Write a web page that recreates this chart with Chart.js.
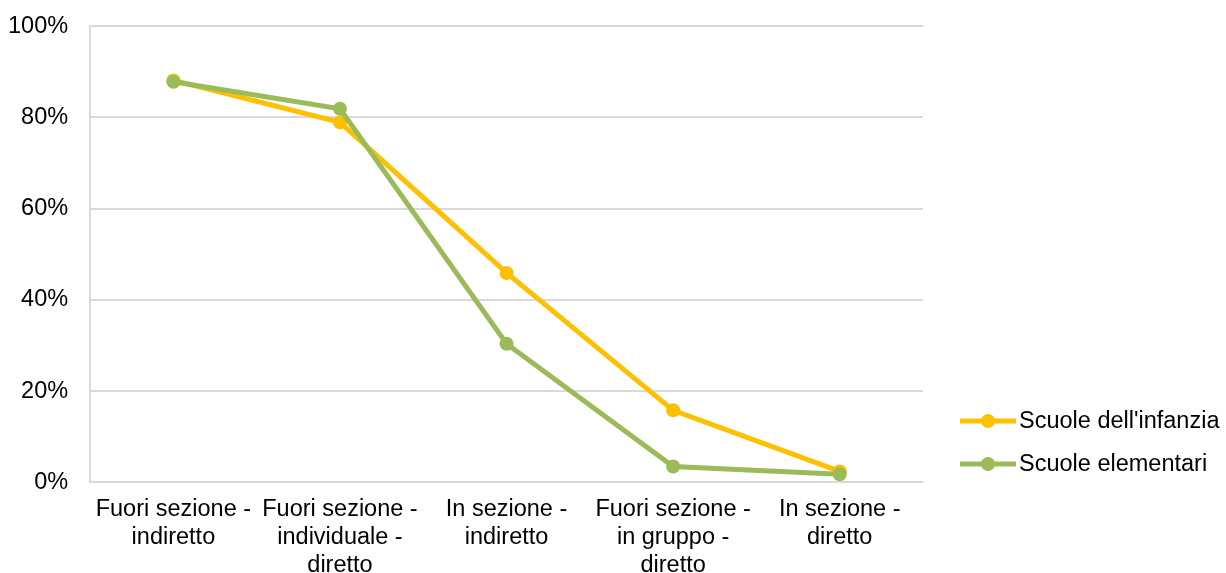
<!DOCTYPE html>
<html>
<head>
<meta charset="utf-8">
<script src="https://cdn.jsdelivr.net/npm/chart.js@4.4.0/dist/chart.umd.min.js"></script>
<style>
  html, body { margin: 0; padding: 0; background: #fff; }
  #wrap { width: 1226px; height: 573px; position: relative; overflow: hidden; }
  #inner { position: absolute; left: 0; top: -10px; width: 1226px; height: 583px; }
</style>
</head>
<body>
<div id="wrap"><div id="inner"><canvas id="chart"></canvas></div></div>
<script>
/* ─── Data ───────────────────── */
const categories = [
  ['Fuori sezione -', 'indiretto'],
  ['Fuori sezione -', 'individuale -', 'diretto'],
  ['In sezione -', 'indiretto'],
  ['Fuori sezione -', 'in gruppo -', 'diretto'],
  ['In sezione -', 'diretto']
];
const infanzia = [88.1, 78.9, 45.9, 15.8, 2.4];
const elementari = [87.8, 81.9, 30.4, 3.5, 1.8];
const seriesNames = ["Scuole dell'infanzia", 'Scuole elementari'];
const seriesColors = ['#FFC000', '#9BBB59'];

Chart.defaults.font.family = "'Liberation Sans', Arial, sans-serif";
Chart.defaults.font.size = 23.5;
Chart.defaults.font.lineHeight = 1.2;
Chart.defaults.color = '#000';

/* ─── Legend drawn at right, like the original ───────────────────── */
const sideLegend = {
  id: 'sideLegend',
  afterDraw(chart) {
    const ctx = chart.ctx;
    const x0 = chart.chartArea.right + 37;
    const rows = [431, 474]; // canvas coords (canvas is shifted up 10px)
    ctx.save();
    chart.data.datasets.forEach((ds, i) => {
      const y = rows[i];
      ctx.strokeStyle = ds.borderColor;
      ctx.lineWidth = 5;
      ctx.beginPath();
      ctx.moveTo(x0, y);
      ctx.lineTo(x0 + 56, y);
      ctx.stroke();
      ctx.fillStyle = ds.borderColor;
      ctx.beginPath();
      ctx.arc(x0 + 28, y, 7, 0, Math.PI * 2);
      ctx.fill();
      ctx.fillStyle = '#000';
      ctx.font = "23.5px 'Liberation Sans', Arial, sans-serif";
      ctx.textAlign = 'left';
      ctx.textBaseline = 'middle';
      ctx.fillText(ds.label, x0 + 59, y + 1);
    });
    ctx.restore();
  }
};

const makeSet = (label, data, color, order) => ({
  label,
  data,
  order,
  borderColor: color,
  backgroundColor: color,
  borderWidth: 5,
  pointRadius: 7,
  pointHoverRadius: 7,
  pointBorderWidth: 0,
  tension: 0,
  fill: false
});

new Chart(document.getElementById('chart'), {
  type: 'line',
  data: {
    labels: categories,
    datasets: [
      makeSet(seriesNames[0], infanzia, seriesColors[0], 1),
      makeSet(seriesNames[1], elementari, seriesColors[1], 0)
    ]
  },
  options: {
    responsive: true,
    maintainAspectRatio: false,
    animation: false,
    layout: { padding: { top: -4, right: 303, left: -14, bottom: -20 } },
    plugins: {
      legend: { display: false },
      tooltip: { enabled: false }
    },
    scales: {
      x: {
        offset: true,
        grid: { display: false, drawTicks: false },
        border: { display: false },
        ticks: { padding: 13, maxRotation: 0, autoSkip: false }
      },
      y: {
        min: 0,
        max: 100,
        grid: { color: '#D9D9D9', lineWidth: 2, drawTicks: false },
        border: { display: true, color: '#D9D9D9', width: 2 },
        ticks: {
          stepSize: 20,
          padding: 22,
          callback: v => v + '%'
        }
      }
    }
  },
  plugins: [sideLegend]
});
</script>
</body>
</html>
